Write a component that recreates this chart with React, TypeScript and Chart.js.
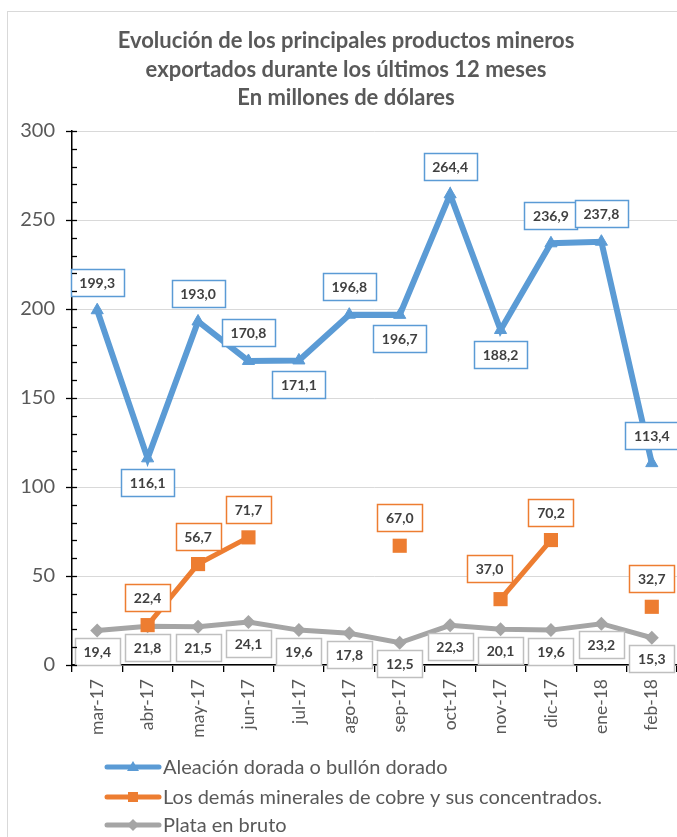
import React, { useEffect, useRef } from 'react';
import { Chart, registerables } from 'chart.js';

Chart.register(...registerables);

const categories = ['mar-17', 'abr-17', 'may-17', 'jun-17', 'jul-17', 'ago-17', 'sep-17', 'oct-17', 'nov-17', 'dic-17', 'ene-18', 'feb-18'];
const aleacion = [199.3, 116.1, 193.0, 170.8, 171.1, 196.8, 196.7, 264.4, 188.2, 236.9, 237.8, 113.4];
const cobre = [null, 22.4, 56.7, 71.7, null, null, 67.0, null, 37.0, 70.2, null, 32.7];
const plata = [19.4, 21.8, 21.5, 24.1, 19.6, 17.8, 12.5, 22.3, 20.1, 19.6, 23.2, 15.3];
const seriesNames = [
  'Aleación dorada o bullón dorado',
  'Los demás minerales de cobre y sus concentrados.',
  'Plata en bruto',
];
const titleLines = [
  'Evolución de los principales productos mineros',
  'exportados durante los últimos 12 meses',
  'En millones de dólares',
];

// label placement (style config): a = above, b = below, l = above-left
const aleacionLabelSide = ['a', 'b', 'a', 'a', 'b', 'a', 'b', 'a', 'b', 'a', 'a', 'a'];
const cobreLabelSide = ['a', 'a', 'a', 'a', 'a', 'a', 'a', 'a', 'l', 'a', 'a', 'a'];
const plataLabelSide = ['b', 'b', 'b', 'b', 'b', 'b', 'b', 'b', 'b', 'b', 'b', 'b'];

const BLUE = '#5B9BD5';
const ORANGE = '#ED7D31';
const GRAY = '#A5A5A5';
const TEXT = '#595959';
const FONT = 'Lato, "Open Sans", sans-serif';

const fmt = (v: number) => v.toFixed(1).replace('.', ',');

const decorPlugin = {
  id: 'decor',
  beforeDraw(chart: any) {
    const { ctx, width, height } = chart;
    ctx.save();
    ctx.fillStyle = '#ffffff';
    ctx.fillRect(0, 0, width, height);
    ctx.strokeStyle = '#D9D9D9';
    ctx.lineWidth = 1;
    ctx.strokeRect(7.5, 11.5, width + 20, height + 20);
    // title
    ctx.fillStyle = TEXT;
    ctx.font = `bold 22px ${FONT}`;
    ctx.textAlign = 'center';
    ctx.textBaseline = 'middle';
    const ys = [41, 70, 98];
    titleLines.forEach((t, i) => ctx.fillText(t, 346, ys[i]));
    ctx.restore();
  },
  afterDraw(chart: any) {
    const { ctx } = chart;
    const y = chart.scales.y;
    const left = chart.chartArea.left;
    ctx.save();
    ctx.strokeStyle = '#000';
    ctx.lineWidth = 1.3;
    for (let v = 0; v <= 300; v += 10) {
      const py = Math.round(y.getPixelForValue(v)) + 0.5;
      ctx.beginPath();
      if (v % 50 === 0) {
        ctx.moveTo(left - 6, py);
        ctx.lineTo(left + 5, py);
      } else {
        ctx.moveTo(left, py);
        ctx.lineTo(left + 5, py);
      }
      ctx.stroke();
    }
    // legend
    const colors = [BLUE, ORANGE, GRAY];
    const styles = ['triangle', 'rect', 'rectRot'];
    const rows = [767, 797, 825];
    ctx.font = `20px ${FONT}`;
    ctx.textAlign = 'left';
    ctx.textBaseline = 'middle';
    seriesNames.forEach((name, i) => {
      const ry = rows[i];
      ctx.strokeStyle = colors[i];
      ctx.lineWidth = 5;
      ctx.lineCap = 'round';
      ctx.beginPath();
      ctx.moveTo(107, ry);
      ctx.lineTo(159, ry);
      ctx.stroke();
      ctx.fillStyle = colors[i];
      ctx.lineCap = 'butt';
      ctx.lineWidth = 1;
      const s = styles[i];
      ctx.beginPath();
      if (s === 'triangle') {
        ctx.moveTo(133, ry - 6);
        ctx.lineTo(139, ry + 4);
        ctx.lineTo(127, ry + 4);
      } else if (s === 'rect') {
        ctx.rect(128, ry - 5, 10, 10);
      } else {
        ctx.moveTo(133, ry - 6);
        ctx.lineTo(139, ry);
        ctx.lineTo(133, ry + 6);
        ctx.lineTo(127, ry);
      }
      ctx.closePath();
      ctx.fill();
      ctx.fillStyle = TEXT;
      ctx.fillText(name, 163, ry + 1);
    });
    ctx.restore();
  },
  afterDatasetsDraw(chart: any) {
    const { ctx } = chart;
    const sides = [aleacionLabelSide, cobreLabelSide, plataLabelSide];
    const borders = [BLUE, ORANGE, '#BFBFBF'];
    const belowOff = [24, 24, 21];
    ctx.save();
    ctx.font = `bold 14px ${FONT}`;
    ctx.textAlign = 'center';
    ctx.textBaseline = 'middle';
    chart.data.datasets.forEach((ds: any, i: number) => {
      const meta = chart.getDatasetMeta(i);
      meta.data.forEach((pt: any, j: number) => {
        const v = ds.data[j];
        if (v === null || v === undefined) return;
        const text = fmt(v);
        const tw = ctx.measureText(text).width;
        const w = Math.round(tw + 17);
        const h = 27;
        const side = sides[i][j];
        const cy = side === 'b' ? pt.y + belowOff[i] : pt.y - (side === 'l' ? 31 : 28);
        const cx = side === 'l' ? pt.x - 11 : pt.x;
        const x0 = Math.round(cx - w / 2) + 0.5;
        const y0 = Math.round(cy - h / 2) + 0.5;
        ctx.fillStyle = '#ffffff';
        ctx.fillRect(x0, y0, w, h);
        ctx.strokeStyle = borders[i];
        ctx.lineWidth = 1.5;
        ctx.strokeRect(x0, y0, w, h);
        ctx.fillStyle = '#404040';
        ctx.fillText(text, cx, cy + 1);
      });
    });
    ctx.restore();
  },
};

export default function App() {
  const ref = useRef<HTMLCanvasElement | null>(null);
  useEffect(() => {
    document.body.style.margin = '0';
    const canvas = ref.current;
    if (!canvas) return;
    const chart = new Chart(canvas, {
      type: 'line',
      data: {
        labels: categories,
        datasets: [
          {
            label: seriesNames[0],
            data: aleacion,
            borderColor: BLUE,
            backgroundColor: BLUE,
            borderWidth: 6,
            pointStyle: 'triangle',
            pointRadius: 7,
            pointBorderWidth: 1,
            tension: 0,
          },
          {
            label: seriesNames[1],
            data: cobre,
            borderColor: ORANGE,
            backgroundColor: ORANGE,
            borderWidth: 5,
            pointStyle: 'rect',
            pointRadius: 10,
            pointBorderWidth: 0,
            spanGaps: false,
            tension: 0,
          },
          {
            label: seriesNames[2],
            data: plata,
            borderColor: GRAY,
            backgroundColor: GRAY,
            borderWidth: 5,
            pointStyle: 'rectRot',
            pointRadius: 7,
            pointBorderWidth: 0,
            tension: 0,
          },
        ],
      },
      options: {
        animation: false,
        responsive: false,
        devicePixelRatio: 1,
        layout: { autoPadding: false, padding: { left: 8, top: 131, right: 0, bottom: 0 } },
        plugins: {
          legend: { display: false },
          title: { display: false },
          tooltip: { enabled: false },
        },
        scales: {
          x: {
            offset: true,
            afterFit: (s: any) => {
              s.height = 172;
              s.paddingLeft = 0;
              s.paddingRight = 0;
            },
            grid: {
              display: true,
              drawOnChartArea: false,
              offset: true,
              tickLength: 7,
              color: '#000',
              lineWidth: 1.3,
            },
            border: { display: true, color: '#000', width: 1.5 },
            ticks: {
              autoSkip: false,
              minRotation: 90,
              maxRotation: 90,
              padding: 7,
              color: TEXT,
              font: { family: FONT, size: 17.5 },
            },
          },
          y: {
            min: 0,
            max: 300,
            afterFit: (s: any) => {
              s.width = 64;
              s.paddingTop = 0;
              s.paddingBottom = 0;
            },
            grid: { color: '#D9D9D9', lineWidth: 1, drawTicks: false },
            border: { display: true, color: '#000', width: 1.5 },
            ticks: {
              stepSize: 50,
              padding: 17,
              color: TEXT,
              font: { family: FONT, size: 20 },
            },
          },
        },
      },
      plugins: [decorPlugin],
    } as any);
    return () => chart.destroy();
  }, []);
  return <canvas ref={ref} width={677} height={837} style={{ display: 'block' }} />;
}
